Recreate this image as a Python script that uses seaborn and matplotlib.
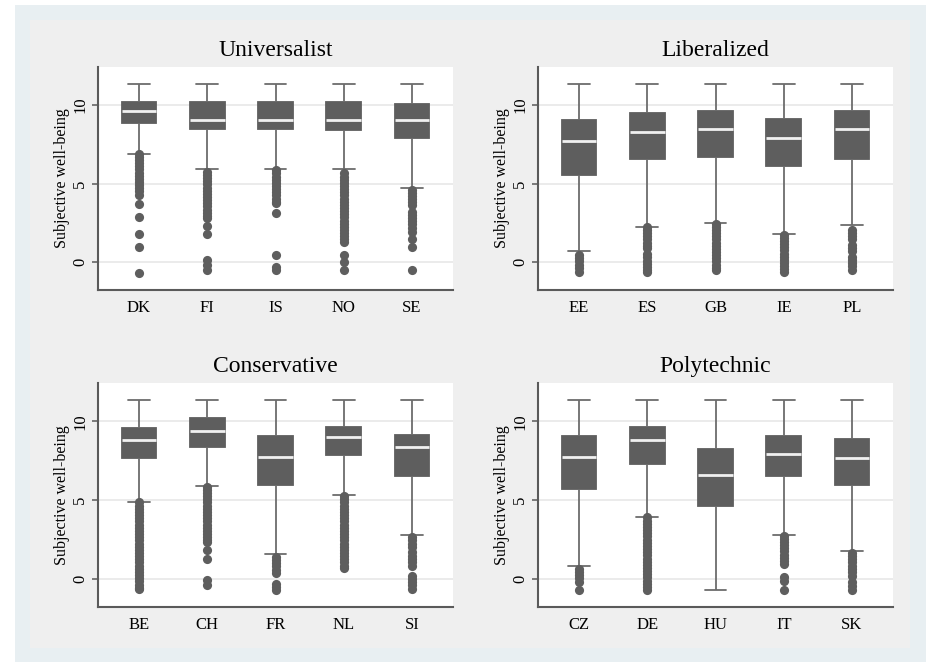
import numpy as np
import pandas as pd
import matplotlib
matplotlib.use("Agg")
import matplotlib.pyplot as plt
from matplotlib.patches import Rectangle
import seaborn as sns

# ---------------- data ----------------
UNI_TITLE = "Universalist"
UNI_COUNTRIES = ["DK", "FI", "IS", "NO", "SE"]
UNI_LOWER = [6.88, 5.95, 5.95, 5.93, 4.70]
UNI_Q1 = [8.83, 8.45, 8.45, 8.41, 7.88]
UNI_MED = [9.62, 9.05, 9.05, 9.05, 9.05]
UNI_Q3 = [10.21, 10.21, 10.21, 10.21, 10.04]
UNI_UPPER = [11.33, 11.33, 11.33, 11.33, 11.33]
UNI_OUTLIERS = [
    [6.9, 6.7, 6.5, 6.3, 6.1, 5.9, 5.7, 5.5, 5.3, 5.1, 4.9, 4.7, 4.5, 4.3, 3.69, 2.90, 1.80, 0.99, -0.68],
    [5.75, 5.55, 5.35, 5.15, 4.95, 4.75, 4.55, 4.35, 4.15, 3.95, 3.75, 3.55, 3.35, 3.15, 2.95, 2.8,
     2.31, 1.80, 0.15, -0.15, -0.49],
    [5.85, 5.65, 5.45, 5.25, 5.05, 4.85, 4.65, 4.45, 4.25, 4.05, 3.85, 3.75, 3.15, 0.46, -0.28, -0.49],
    [5.65, 5.45, 5.25, 5.05, 4.85, 4.65, 4.45, 4.25, 4.05, 3.85, 3.65, 3.45, 3.25, 3.05, 2.85, 2.65,
     2.45, 2.25, 2.05, 1.85, 1.65, 1.45, 1.31, 0.46, 0.04, -0.49],
    [4.6, 4.4, 4.2, 4.0, 3.8, 3.64, 3.22, 3.0, 2.8, 2.6, 2.4, 2.2, 1.95, 1.46, 0.99, -0.49],
]

LIB_TITLE = "Liberalized"
LIB_COUNTRIES = ["EE", "ES", "GB", "IE", "PL"]
LIB_LOWER = [0.68, 2.27, 2.52, 1.80, 2.35]
LIB_Q1 = [5.55, 6.55, 6.72, 6.12, 6.57]
LIB_MED = [7.71, 8.30, 8.45, 7.92, 8.45]
LIB_Q3 = [9.05, 9.51, 9.62, 9.09, 9.64]
LIB_UPPER = [11.33, 11.33, 11.33, 11.33, 11.33]
LIB_OUTLIERS = [
    [0.46, 0.25, 0.05, -0.15, -0.35, -0.6],
    [2.25, 2.05, 1.85, 1.65, 1.45, 1.25, 1.05, 0.9, 0.5, 0.3, 0.1, -0.1, -0.3, -0.5, -0.6],
    [2.45, 2.25, 2.05, 1.85, 1.65, 1.45, 1.25, 1.05, 0.85, 0.65, 0.45, 0.25, 0.05, -0.15, -0.35, -0.5],
    [1.75, 1.55, 1.35, 1.15, 0.95, 0.75, 0.55, 0.35, 0.15, -0.05, -0.25, -0.45, -0.6],
    [2.05, 1.85, 1.65, 1.45, 1.1, 0.9, 0.7, 0.35, 0.15, -0.05, -0.25, -0.49],
]

CON_TITLE = "Conservative"
CON_COUNTRIES = ["BE", "CH", "FR", "NL", "SI"]
CON_LOWER = [4.87, 5.89, 1.59, 5.30, 2.80]
CON_Q1 = [7.67, 8.39, 5.97, 7.84, 6.50]
CON_MED = [8.83, 9.41, 7.71, 9.03, 8.35]
CON_Q3 = [9.58, 10.21, 9.05, 9.64, 9.11]
CON_UPPER = [11.33, 11.33, 11.33, 11.33, 11.33]
CON_OUTLIERS = [
    [4.85, 4.65, 4.45, 4.25, 4.05, 3.85, 3.65, 3.45, 3.25, 3.05, 2.85, 2.65, 2.45, 2.25, 2.05, 1.85,
     1.65, 1.45, 1.25, 1.05, 0.85, 0.65, 0.45, 0.25, 0.05, -0.15, -0.35, -0.55, -0.65],
    [5.85, 5.65, 5.45, 5.25, 5.05, 4.85, 4.65, 4.45, 4.25, 4.05, 3.85, 3.65, 3.45, 3.25, 3.05, 2.85,
     2.65, 2.45, 2.33, 1.84, 1.27, -0.06, -0.35],
    [1.4, 1.2, 1.0, 0.8, 0.6, 0.4, -0.32, -0.52, -0.72],
    [5.25, 5.05, 4.85, 4.65, 4.45, 4.25, 4.05, 3.85, 3.65, 3.45, 3.25, 3.05, 2.85, 2.65, 2.45, 2.25,
     2.05, 1.85, 1.65, 1.45, 1.25, 1.05, 0.85, 0.70],
    [2.64, 2.45, 2.25, 2.01, 1.69, 1.45, 1.25, 1.05, 0.85, 0.21, 0.0, -0.2, -0.4, -0.64],
]

POL_TITLE = "Polytechnic"
POL_COUNTRIES = ["CZ", "DE", "HU", "IT", "SK"]
POL_LOWER = [0.80, 3.92, -0.70, 2.82, 1.76]
POL_Q1 = [5.68, 7.29, 4.64, 6.50, 5.95]
POL_MED = [7.71, 8.83, 6.57, 7.92, 7.69]
POL_Q3 = [9.05, 9.64, 8.26, 9.05, 8.86]
POL_UPPER = [11.33, 11.33, 11.33, 11.33, 11.33]
POL_OUTLIERS = [
    [0.64, 0.44, 0.24, 0.04, -0.21, -0.70],
    [3.9, 3.7, 3.5, 3.3, 3.1, 2.9, 2.7, 2.5, 2.3, 2.1, 1.9, 1.7, 1.5, 1.3, 1.1, 0.9, 0.7, 0.5, 0.3,
     0.1, -0.1, -0.3, -0.5, -0.7],
    [],
    [2.75, 2.55, 2.35, 2.15, 1.95, 1.75, 1.55, 1.35, 1.15, 0.95, 0.10, -0.10, -0.70],
    [1.65, 1.45, 1.25, 1.05, 0.85, 0.65, 0.45, 0.21, -0.21, -0.45, -0.70],
]

Y_TICKS = [0, 5, 10]
Y_LABEL = "Subjective well-being"

# ---------------- style ----------------
sns.set_theme(style="white")
plt.rcParams["font.family"] = ["Liberation Serif", "DejaVu Serif"]

BOX = "#5e5e5e"
WHISK = "#6c6c6c"
MED = "#f0f0f0"
GRID = "#e6e6e6"
SPINE = "#5a5a5a"
OUTER = "#e8eff2"
INNER = "#efefef"

W, H = 932, 662
fig = plt.figure(figsize=(W / 100, H / 100), dpi=100, facecolor="white")

# background regions (pixel boxes converted to figure fraction)
def px_rect(x0, y0, x1, y1, color):
    fig.patches.append(Rectangle((x0 / W, 1 - y1 / H), (x1 - x0) / W, (y1 - y0) / H,
                                 transform=fig.transFigure, facecolor=color,
                                 edgecolor="none", zorder=-10))

px_rect(15, 5, 926, 662, OUTER)
px_rect(30, 20, 910, 648, INNER)


def draw_panel(px, title, countries, lower, q1, med, q3, upper, outliers):
    x0, y0, x1, y1 = px
    ax = fig.add_axes([x0 / W, 1 - y1 / H, (x1 - x0) / W, (y1 - y0) / H])
    ax.set_facecolor("white")

    rows = []
    for c, lo, a, m, b, hi in zip(countries, lower, q1, med, q3, upper):
        for v in (lo, a, m, b, hi):
            rows.append((c, v))
    box_df = pd.DataFrame(rows, columns=["country", "swb"])
    out_rows = [(c, v) for c, vals in zip(countries, outliers) for v in vals]
    out_df = pd.DataFrame(out_rows, columns=["country", "swb"])

    ax.set_axisbelow(True)
    sns.boxplot(data=box_df, x="country", y="swb", order=countries, whis=(0, 100),
                showfliers=False, width=0.51, color=BOX, saturation=1,
                linecolor=WHISK, linewidth=1.3, capwidths=0.32,
                medianprops=dict(color=MED, linewidth=2.0), ax=ax)
    for p in ax.patches:
        p.set_edgecolor(BOX)
    if len(out_df):
        sns.stripplot(data=out_df, x="country", y="swb", order=countries, jitter=False,
                      color=BOX, size=6.6, linewidth=0, ax=ax, zorder=3)

    ax.set_xlim(-0.6, 4.6)
    ax.set_ylim(-1.77, 12.42)
    ax.set_yticks(Y_TICKS)
    ax.set_yticklabels([str(t) for t in Y_TICKS])
    ax.yaxis.grid(True, color=GRID, linewidth=1.1)
    ax.xaxis.grid(False)
    for s in ("top", "right"):
        ax.spines[s].set_visible(False)
    for s in ("left", "bottom"):
        ax.spines[s].set_color(SPINE)
        ax.spines[s].set_linewidth(1.5)
    ax.tick_params(axis="y", left=True, length=4, width=1.1, color=SPINE,
                   labelsize=12, pad=3, labelcolor="black")
    for lab in ax.get_yticklabels():
        lab.set_rotation(90)
        lab.set_va("center")
        lab.set_ha("right")
    ax.tick_params(axis="x", bottom=False, length=0, labelsize=12, pad=7,
                   labelcolor="black")
    ax.set_xlabel("")
    ax.set_ylabel(Y_LABEL, fontsize=11.5, labelpad=2, color="black")
    ax.set_title(title, fontsize=17, pad=8, color="black")
    return ax


draw_panel((98, 67, 453, 290), UNI_TITLE, UNI_COUNTRIES, UNI_LOWER, UNI_Q1, UNI_MED,
           UNI_Q3, UNI_UPPER, UNI_OUTLIERS)
draw_panel((538, 67, 893, 290), LIB_TITLE, LIB_COUNTRIES, LIB_LOWER, LIB_Q1, LIB_MED,
           LIB_Q3, LIB_UPPER, LIB_OUTLIERS)
draw_panel((98, 383, 453, 607), CON_TITLE, CON_COUNTRIES, CON_LOWER, CON_Q1, CON_MED,
           CON_Q3, CON_UPPER, CON_OUTLIERS)
draw_panel((538, 383, 893, 607), POL_TITLE, POL_COUNTRIES, POL_LOWER, POL_Q1, POL_MED,
           POL_Q3, POL_UPPER, POL_OUTLIERS)

fig.savefig("out.png", dpi=100, facecolor="white")
